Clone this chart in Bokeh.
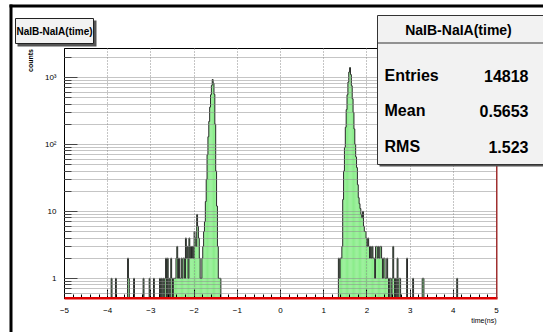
import math
import numpy as np
from bokeh.plotting import figure
from bokeh.core.properties import value
from bokeh.models import FixedTicker, Range1d, ColumnDataSource, LinearScale
from bokeh.embed import file_html
from bokeh.resources import INLINE

# ---------------- data ----------------
title_text = "NaIB-NaIA(time)"
stat_names = ["Entries", "Mean", "RMS"]
stat_values = ["14818", "0.5653", "1.523"]
x_label = "time(ns)"
y_label = "counts"

x_ticks = [-5, -4, -3, -2, -1, 0, 1, 2, 3, 4, 5]
y_ticks = [1, 10, 100, 1000]
y_tick_labels = ["1", "10", "10\u00b2", "10\u00b3"]

bin_width = 0.02
x_min, x_max = -5.0, 5.0

# non-empty bins: bin centre (ns) and counts
left_tail_x = [-3.91, -3.81, -3.53, -3.51, -3.39, -3.17, -3.03, -2.93, -2.79, -2.75,
               -2.71, -2.67, -2.65, -2.61, -2.57, -2.53, -2.51, -2.47]
left_tail_n = [1, 1, 2, 1, 1, 1, 1, 1, 1, 1,
               1, 1, 2, 2, 1, 2, 1, 1]

left_shoulder_x = [-2.45, -2.43, -2.41, -2.39, -2.37, -2.35, -2.33, -2.31, -2.29, -2.27,
                   -2.25, -2.23, -2.21, -2.19, -2.17, -2.15, -2.13, -2.11, -2.09, -2.07,
                   -2.05, -2.03, -2.01, -1.99, -1.97, -1.95, -1.93, -1.91, -1.89, -1.87,
                   -1.85]
left_shoulder_n = [1, 1, 2, 3, 1, 2, 1, 1, 2, 1,
                   2, 2, 1, 4, 2, 3, 1, 4, 2, 3,
                   2, 3, 2, 5, 4, 3, 9, 6, 4, 2,
                   1]

left_peak_x = [-1.83, -1.81, -1.79, -1.77, -1.75, -1.73, -1.71, -1.69, -1.67, -1.65,
               -1.63, -1.61, -1.59, -1.57, -1.55, -1.53, -1.51, -1.49, -1.47, -1.45,
               -1.43, -1.41, -1.39]
left_peak_n = [1, 2, 3, 5, 7, 14, 30, 70, 130, 220,
               360, 550, 760, 930, 820, 560, 200, 40, 12, 3,
               1, 1, 1]

right_peak_x = [1.35, 1.37, 1.39, 1.41, 1.43, 1.45, 1.47, 1.49, 1.51, 1.53,
                1.55, 1.57, 1.59, 1.61, 1.63, 1.65, 1.67, 1.69, 1.71, 1.73,
                1.75, 1.77, 1.79, 1.81, 1.83, 1.85, 1.87, 1.89, 1.91, 1.93,
                1.95, 1.97, 1.99, 2.01, 2.03, 2.05, 2.07, 2.09]
right_peak_n = [2, 1, 2, 2, 3, 15, 40, 90, 180, 330,
                550, 850, 1200, 1400, 1100, 750, 480, 300, 170, 100,
                65, 45, 25, 16, 13, 11, 9, 8, 10, 6,
                5, 5, 4, 3, 4, 3, 2, 3]

right_tail_x = [2.11, 2.13, 2.15, 2.17, 2.19, 2.21, 2.23, 2.25, 2.27, 2.29,
                2.31, 2.33, 2.35, 2.37, 2.39, 2.41, 2.43, 2.45, 2.47, 2.49,
                2.53, 2.55, 2.59, 2.61, 2.63, 2.67, 2.71, 2.75, 2.77, 2.93,
                3.07, 3.29, 3.31, 4.09]
right_tail_n = [2, 3, 2, 2, 1, 3, 3, 2, 3, 2,
                3, 3, 2, 1, 2, 2, 1, 1, 2, 1,
                1, 1, 1, 3, 1, 1, 2, 1, 1, 2,
                1, 1, 1, 1]

# ---------------- histogram assembly ----------------
n_bins = int(round((x_max - x_min) / bin_width))
edges = np.round(np.linspace(x_min, x_max, n_bins + 1), 6)
counts = np.zeros(n_bins)
for xs, ns in [(left_tail_x, left_tail_n), (left_shoulder_x, left_shoulder_n),
               (left_peak_x, left_peak_n), (right_peak_x, right_peak_n),
               (right_tail_x, right_tail_n)]:
    for c, n in zip(xs, ns):
        idx = int(math.floor((c - x_min) / bin_width))
        counts[idx] += n

Y_LO, Y_HI = 0.5, 2700
nz = counts > 0
fill_src = ColumnDataSource(dict(left=edges[:-1][nz], right=edges[1:][nz],
                                 top=counts[nz], bottom=np.full(nz.sum(), 0.3)))
step_x = np.repeat(edges, 2)[1:-1]
step_y = np.repeat(np.where(counts > 0, counts, 0.3), 2)

# ---------------- figure ----------------
FONT = "Liberation Sans"
FL, FT, FR, FB = 64, 48, 496, 298  # frame edges on the canvas

p = figure(width=543, height=332, y_axis_type="log",
           x_range=Range1d(x_min, x_max), y_range=Range1d(Y_LO, Y_HI),
           output_backend="svg", toolbar_location=None,
           min_border_left=FL, min_border_right=543 - FR,
           min_border_top=FT, min_border_bottom=332 - FB)
p.background_fill_color = "white"
p.border_fill_color = "white"
p.outline_line_color = "black"
p.outline_line_width = 1

# pixel coordinate system for the decorations around the frame
p.extra_x_ranges = {"px": Range1d(FL, FR)}
p.extra_y_ranges = {"px": Range1d(FB, FT)}
p.extra_x_scales = {"px": LinearScale()}
p.extra_y_scales = {"px": LinearScale()}

p.quad(left="left", right="right", top="top", bottom="bottom", source=fill_src,
       fill_color="#7deb7d", line_color=None)
p.line(step_x, step_y, line_color="#2a2a2a", line_width=1)

# grid drawn over the fill, like the original
p.xgrid.ticker = FixedTicker(ticks=x_ticks)
p.xgrid.grid_line_color = "#8a8a8a"
p.xgrid.grid_line_dash = "1 2"
p.xgrid.level = "annotation"
p.ygrid.grid_line_color = "#8a8a8a"
p.ygrid.grid_line_dash = "1 1"
p.ygrid.minor_grid_line_color = "#8a8a8a"
p.ygrid.minor_grid_line_dash = "1 1"
p.ygrid.level = "annotation"

# axes
x_minor = [round(x_min + 0.2 * k, 2) for k in range(51)]
p.xaxis.ticker = FixedTicker(ticks=x_ticks, minor_ticks=x_minor)
y_minor = [m * 10 ** e for e in range(-1, 4) for m in range(2, 10)
           if Y_LO < m * 10 ** e < Y_HI]
p.yaxis.ticker = FixedTicker(ticks=y_ticks, minor_ticks=y_minor)
p.yaxis.major_label_overrides = {t: l for t, l in zip(y_ticks, y_tick_labels)}

for ax in (p.xaxis[0], p.yaxis[0]):
    ax.major_tick_out = 0
    ax.minor_tick_out = 0
    ax.major_tick_line_color = "black"
    ax.minor_tick_line_color = "black"
    ax.axis_line_color = "black"
    ax.major_label_text_font = FONT
    ax.major_label_text_font_size = "8px"
    ax.major_label_text_color = "black"
p.xaxis.major_tick_in = 9
p.xaxis.minor_tick_in = 4
p.xaxis.major_label_standoff = 9
p.yaxis.major_tick_in = 13
p.yaxis.minor_tick_in = 7
p.yaxis.major_label_standoff = 8

PX = dict(x_range_name="px", y_range_name="px", level="overlay")


def box(l, t, r, b, **kw):
    p.quad(left=[l], right=[r], top=[t], bottom=[b], **PX, **kw)


def text(x, y, s, size, align, bold=True, angle=0.0):
    p.text(x=[x], y=[y], text=[s], angle=angle, text_align=align,
           text_baseline="middle", text_font=value(FONT), text_font_size=value(size),
           text_font_style="bold" if bold else "normal", text_color="black", **PX)


# red bottom edge and dark-red right edge of the frame
box(FL, FB - 1.5, FR + 1, FB + 1, fill_color="#e00000", line_color=None)
box(FR - 0.5, FT, FR + 1, FB, fill_color="#a03030", line_color=None)

# canvas border (black) at top and left
box(9, 4, 560, 7, fill_color="black", line_color=None)
box(9, 4, 12, 340, fill_color="black", line_color=None)

# title box with shadow
box(17, 20, 96, 46, fill_color="#555555", line_color=None)
box(15, 18, 93, 43, fill_color="#f2f2f2", line_color="#222222", line_width=1)
text(54, 31, title_text, "10px", "center")

# statistics box with shadow
box(379, 17, 560, 166, fill_color="#555555", line_color=None)
box(377, 15, 560, 164, fill_color="#f2f2f2", line_color="#333333", line_width=1)
box(377, 42, 560, 43, fill_color="#333333", line_color=None)
text(458, 29, title_text, "14px", "center")
for name, val, yy in zip(stat_names, stat_values, [75, 110, 146]):
    text(384, yy, name, "16px", "left")
    text(528, yy, val, "16px", "right")

# axis titles (ROOT style: at the end of the axes)
text(30, 60, y_label, "7px", "center", angle=math.pi / 2)
text(FR, 320, x_label, "7px", "right", bold=False)

open("out.html", "w").write(file_html(p, INLINE))
